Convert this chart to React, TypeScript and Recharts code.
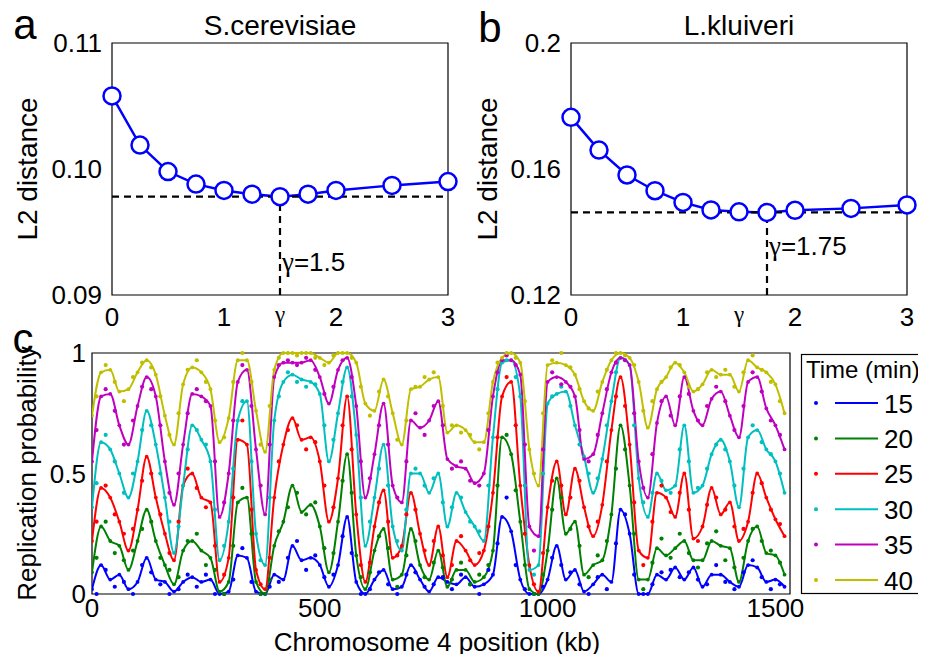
import React from "react";
import {
  ComposedChart,
  LineChart,
  Line,
  Scatter,
  XAxis,
  YAxis,
  ReferenceLine,
  ReferenceArea,
  ReferenceDot,
} from "recharts";

const FONT = "'Liberation Sans', Arial, Helvetica, sans-serif";
const SERIF = "'Liberation Serif', 'DejaVu Serif', serif";

// Panels a / b: L2 distance vs gamma
const gammas = [0, 0.25, 0.5, 0.75, 1, 1.25, 1.5, 1.75, 2, 2.5, 3];
const cerevisiaeL2 = [0.1058, 0.1019, 0.0998, 0.0988, 0.0983, 0.098, 0.0978, 0.098, 0.0983, 0.0987, 0.099];
const kluiveriL2 = [0.1764, 0.166, 0.1581, 0.1531, 0.1494, 0.147, 0.1464, 0.1462, 0.1469, 0.1475, 0.1486];

// Panel c: replication probability along chromosome 4 (kb)
const fitPositions = Array.from({ length: 77 }, (_, i) => i * 20);
const obsPositions = Array.from({ length: 76 }, (_, i) => 10 + i * 20);

const fit15 = [0.02,0.12,0.06,0.08,0.02,0.05,0.15,0.06,0.05,0.01, 0.05,0.07,0.05,0.06,0.00,0.01,0.16,0.15,0.01,0.00, 0.08,0.06,0.20,0.14,0.15,0.12,0.03,0.12,0.32,0.05, 0.00,0.06,0.10,0.02,0.03,0.12,0.06,0.01,0.07,0.05, 0.04,0.07,0.03,0.04,0.08,0.32,0.26,0.06,0.00,0.00, 0.06,0.20,0.06,0.10,0.01,0.04,0.08,0.05,0.35,0.25, 0.00,0.00,0.08,0.06,0.11,0.06,0.11,0.03,0.08,0.08, 0.05,0.03,0.12,0.11,0.05,0.06,0.03];
const fit20 = [0.09,0.28,0.22,0.20,0.10,0.22,0.35,0.22,0.12,0.04, 0.18,0.22,0.18,0.15,0.01,0.05,0.38,0.40,0.05,0.00, 0.20,0.30,0.45,0.34,0.37,0.28,0.09,0.30,0.58,0.16, 0.02,0.18,0.27,0.06,0.08,0.27,0.12,0.06,0.18,0.03, 0.10,0.10,0.05,0.07,0.18,0.65,0.58,0.30,0.02,0.00, 0.18,0.48,0.25,0.30,0.08,0.12,0.14,0.33,0.70,0.45, 0.06,0.06,0.19,0.16,0.19,0.22,0.14,0.14,0.22,0.20, 0.19,0.05,0.22,0.28,0.17,0.16,0.08];
const fit25 = [0.22,0.44,0.40,0.30,0.18,0.35,0.57,0.40,0.25,0.14, 0.45,0.50,0.40,0.38,0.05,0.15,0.64,0.62,0.10,0.02, 0.40,0.62,0.73,0.64,0.65,0.55,0.30,0.48,0.82,0.33, 0.05,0.28,0.43,0.15,0.20,0.42,0.25,0.12,0.28,0.07, 0.22,0.18,0.12,0.18,0.42,0.82,0.88,0.45,0.12,0.01, 0.36,0.55,0.33,0.52,0.36,0.24,0.37,0.68,0.90,0.62, 0.18,0.15,0.42,0.40,0.32,0.50,0.23,0.28,0.44,0.33, 0.38,0.22,0.30,0.50,0.40,0.31,0.24];
const fit30 = [0.36,0.63,0.60,0.50,0.40,0.55,0.76,0.62,0.40,0.17, 0.45,0.70,0.64,0.55,0.14,0.30,0.72,0.80,0.25,0.12, 0.72,0.88,0.91,0.89,0.88,0.83,0.55,0.75,0.94,0.66, 0.20,0.40,0.62,0.28,0.18,0.50,0.50,0.42,0.50,0.28, 0.42,0.34,0.28,0.22,0.65,0.96,0.97,0.82,0.10,0.12, 0.79,0.83,0.84,0.70,0.57,0.42,0.56,0.80,0.98,0.95, 0.48,0.32,0.50,0.43,0.45,0.70,0.42,0.45,0.58,0.64, 0.55,0.36,0.65,0.68,0.60,0.55,0.42];
const fit35 = [0.55,0.82,0.83,0.70,0.62,0.78,0.90,0.82,0.55,0.37, 0.62,0.83,0.82,0.78,0.32,0.50,0.88,0.93,0.60,0.33, 0.90,0.96,0.96,0.96,0.97,0.90,0.79,0.93,0.98,0.78, 0.40,0.58,0.79,0.45,0.38,0.72,0.69,0.72,0.80,0.56, 0.53,0.52,0.46,0.50,0.82,0.97,0.97,0.91,0.28,0.24, 0.88,0.90,0.88,0.82,0.56,0.58,0.75,0.92,0.98,0.95, 0.55,0.40,0.71,0.82,0.70,0.90,0.76,0.70,0.81,0.84, 0.74,0.65,0.88,0.90,0.77,0.70,0.60];
const fit40 = [0.74,0.92,0.93,0.84,0.85,0.92,0.97,0.91,0.74,0.62, 0.87,0.94,0.92,0.85,0.63,0.73,0.97,0.97,0.76,0.59, 0.93,1.00,1.00,1.00,1.00,0.98,0.96,1.00,1.00,0.96, 0.79,0.76,0.89,0.75,0.62,0.85,0.86,0.89,0.90,0.67, 0.70,0.68,0.63,0.63,0.88,0.98,1.00,0.96,0.60,0.45, 0.95,0.96,0.95,0.91,0.80,0.76,0.88,0.97,1.00,0.98, 0.88,0.69,0.85,0.90,0.96,0.92,0.84,0.87,0.93,0.91, 0.91,0.84,0.97,0.94,0.92,0.87,0.75];

const obs15 = [0.00,0.10,0.03,0.05,0.00,0.12,0.09,0.04,0.00,0.02, 0.08,0.03,0.08,0.00,0.00,0.06,0.19,0.05,0.00,0.03, 0.05,0.15,0.22,0.10,0.16,0.07,0.08,0.24,0.17,0.00, 0.02,0.09,0.04,0.00,0.08,0.09,0.03,0.04,0.07,0.02, 0.08,0.04,0.00,0.10,0.21,0.40,0.12,0.02,0.00,0.03, 0.15,0.12,0.09,0.04,0.00,0.07,0.02,0.21,0.33,0.08, 0.00,0.04,0.09,0.10,0.07,0.09,0.06,0.04,0.12,0.05, 0.02,0.09,0.14,0.07,0.02,0.04];
const obs20 = [0.15,0.30,0.17,0.14,0.18,0.27,0.30,0.15,0.10,0.07, 0.22,0.25,0.12,0.10,0.00,0.20,0.44,0.25,0.00,0.06, 0.26,0.36,0.42,0.33,0.38,0.19,0.17,0.47,0.42,0.07, 0.09,0.24,0.19,0.03,0.16,0.22,0.07,0.13,0.11,0.06, 0.13,0.04,0.08,0.12,0.45,0.66,0.43,0.12,0.00,0.08, 0.35,0.40,0.27,0.20,0.07,0.16,0.22,0.52,0.60,0.25, 0.02,0.13,0.23,0.15,0.25,0.17,0.11,0.21,0.26,0.14, 0.11,0.15,0.27,0.22,0.18,0.13];
const obs25 = [0.30,0.45,0.33,0.25,0.27,0.47,0.50,0.33,0.17,0.30, 0.52,0.44,0.36,0.20,0.08,0.40,0.72,0.35,0.04,0.15, 0.55,0.68,0.70,0.60,0.63,0.45,0.36,0.70,0.60,0.12, 0.13,0.38,0.30,0.16,0.33,0.35,0.18,0.22,0.16,0.12, 0.24,0.14,0.17,0.28,0.65,0.90,0.70,0.25,0.04,0.17, 0.47,0.45,0.40,0.47,0.28,0.30,0.55,0.82,0.78,0.38, 0.12,0.30,0.45,0.34,0.42,0.35,0.22,0.37,0.40,0.35, 0.28,0.27,0.42,0.46,0.35,0.29];
const obs30 = [0.46,0.66,0.55,0.42,0.50,0.68,0.70,0.50,0.30,0.28, 0.60,0.68,0.62,0.35,0.20,0.52,0.80,0.55,0.14,0.40, 0.82,0.92,0.88,0.86,0.87,0.70,0.64,0.88,0.82,0.40, 0.30,0.52,0.45,0.22,0.35,0.52,0.45,0.48,0.38,0.36, 0.40,0.30,0.26,0.45,0.85,0.97,0.90,0.45,0.08,0.50, 0.82,0.86,0.78,0.62,0.50,0.48,0.70,0.92,0.97,0.70, 0.38,0.42,0.47,0.42,0.60,0.55,0.44,0.52,0.62,0.60, 0.45,0.52,0.70,0.63,0.58,0.50];
const obs35 = [0.68,0.85,0.76,0.62,0.72,0.86,0.85,0.70,0.42,0.50, 0.75,0.85,0.80,0.55,0.38,0.72,0.95,0.78,0.45,0.62, 0.95,0.97,0.95,0.98,0.93,0.83,0.86,0.97,0.90,0.55, 0.48,0.70,0.62,0.40,0.55,0.75,0.66,0.78,0.70,0.52, 0.55,0.47,0.45,0.68,0.92,0.99,0.95,0.62,0.18,0.60, 0.92,0.87,0.86,0.68,0.55,0.66,0.85,0.96,0.97,0.75, 0.44,0.58,0.80,0.74,0.82,0.83,0.72,0.78,0.86,0.80, 0.68,0.78,0.92,0.84,0.72,0.66];
const obs40 = [0.82,0.95,0.88,0.80,0.90,0.96,0.94,0.82,0.66,0.75, 0.93,0.97,0.88,0.72,0.65,0.88,1.00,0.88,0.62,0.78, 0.98,1.00,0.99,1.00,0.98,0.95,0.99,1.00,0.98,0.86, 0.74,0.84,0.82,0.64,0.72,0.86,0.90,0.92,0.78,0.70, 0.67,0.66,0.60,0.75,0.96,1.00,0.98,0.80,0.50,0.75, 0.97,1.00,0.94,0.85,0.77,0.84,0.93,1.00,0.99,0.95, 0.76,0.80,0.88,0.94,0.95,0.86,0.85,0.92,0.90,0.93, 0.86,0.92,0.99,0.93,0.88,0.80];

const timeSeries = [
  { key: "t15", label: "15", color: "#0000ff", fit: fit15, obs: obs15 },
  { key: "t20", label: "20", color: "#008000", fit: fit20, obs: obs20 },
  { key: "t25", label: "25", color: "#ff0000", fit: fit25, obs: obs25 },
  { key: "t30", label: "30", color: "#00bfbf", fit: fit30, obs: obs30 },
  { key: "t35", label: "35", color: "#bf00bf", fit: fit35, obs: obs35 },
  { key: "t40", label: "40", color: "#bfbf00", fit: fit40, obs: obs40 },
];

const fitRows = fitPositions.map((x, i) => {
  const row: Record<string, number> = { x };
  timeSeries.forEach((s) => (row[s.key] = s.fit[i]));
  return row;
});
const obsRows = obsPositions.map((x, i) => {
  const row: Record<string, number> = { x };
  timeSeries.forEach((s) => (row[s.key] = s.obs[i]));
  return row;
});

const tickStyle = { fontSize: 26, fill: "#000", fontFamily: FONT };

// Helpers for labels
function YTitle({ viewBox, text, size = 28 }: any) {
  const vb = viewBox || { x: 0, y: 0, width: 0, height: 0 };
  const cx = vb.x + 27;
  const cy = vb.y + vb.height / 2;
  return (
    <text x={cx} y={cy} transform={`rotate(-90 ${cx} ${cy})`} textAnchor="middle" dominantBaseline="central" fontSize={size} fontFamily={FONT} fill="#000">
      {text}
    </text>
  );
}

function GammaAxisLabel({ viewBox }: any) {
  const vb = viewBox || { x: 0, y: 0, width: 0, height: 0 };
  return (
    <text x={vb.x + vb.width / 2} y={vb.y + 27} textAnchor="middle" fontSize={23} fontFamily={SERIF} fill="#000">
      γ
    </text>
  );
}

function GammaNote({ viewBox, text }: any) {
  const vb = viewBox || { x: 0, y: 0 };
  return (
    <text x={vb.x + 2} y={vb.y} dominantBaseline="central" fontSize={26} fontFamily={FONT} fill="#000">
      <tspan fontFamily={SERIF} fontSize={27}>γ</tspan>
      <tspan>{text}</tspan>
    </text>
  );
}

function XTitle({ viewBox, text }: any) {
  const vb = viewBox || { x: 0, y: 0, width: 0, height: 0 };
  return (
    <text x={vb.x + vb.width / 2 - 4} y={vb.y + 57} textAnchor="middle" fontSize={26} fontFamily={FONT} fill="#000">
      {text}
    </text>
  );
}

interface GammaPanelProps {
  left: number;
  width: number;
  yAxisWidth: number;
  values: number[];
  yDomain: [number, number];
  yTicks: number[];
  yInner: number[];
  yFormat: (v: number) => string;
  noteY: number;
}

function GammaPanel({ left, width, yAxisWidth, values, yDomain, yTicks, yInner, yFormat, noteY }: GammaPanelProps) {
  const rows = gammas.map((g, i) => ({ g, d: values[i] }));
  const minIdx = values.indexOf(Math.min(...values));
  const best = values[minIdx];
  const bestGamma = gammas[minIdx];
  return (
    <div style={{ position: "absolute", left, top: 0 }}>
      <LineChart width={width} height={340} data={rows} margin={{ top: 43, right: width - yAxisWidth - 336, bottom: 0, left: 0 }}>
        <ReferenceArea x1={0} x2={3} y1={yDomain[0]} y2={yDomain[1]} stroke="#000" strokeWidth={1.2} fill="#fff" fillOpacity={0} />
        <XAxis dataKey="g" type="number" domain={[0, 3]} ticks={[0, 1, 2, 3]} height={45} axisLine={false} tickLine={false} tickSize={0} tickMargin={13} tick={tickStyle} label={<GammaAxisLabel />} />
        <XAxis xAxisId="top" orientation="top" type="number" domain={[0, 3]} ticks={[1, 2]} mirror axisLine={false} tick={false} tickSize={4} tickLine={{ stroke: "#000" }} />
        <YAxis type="number" domain={yDomain} ticks={yTicks} width={yAxisWidth} axisLine={false} tickLine={false} tickSize={0} tickMargin={10} tick={tickStyle} tickFormatter={yFormat} label={<YTitle text="L2 distance" />} />
        <YAxis yAxisId="right" orientation="right" type="number" domain={yDomain} ticks={yInner} mirror axisLine={false} tick={false} tickSize={4} tickLine={{ stroke: "#000" }} />
        <Line dataKey="d" type="linear" stroke="#0000ff" strokeWidth={2.5} dot={{ r: 8.5, stroke: "#0000ff", strokeWidth: 2.5, fill: "#fff" }} isAnimationActive={false} />
        <ReferenceLine y={best} stroke="#000" strokeWidth={2.2} strokeDasharray="7 5" />
        <ReferenceLine segment={[{ x: bestGamma, y: yDomain[0] }, { x: bestGamma, y: best }]} stroke="#000" strokeWidth={2.2} strokeDasharray="7 5" />
        <ReferenceDot x={bestGamma} y={noteY} r={0} stroke="none" fill="none" label={<GammaNote text={`=${bestGamma}`} />} />
      </LineChart>
    </div>
  );
}

const ObsDot = (color: string) => (props: any) => <circle cx={props.cx} cy={props.cy} r={2.1} fill={color} />;

export default function App() {
  return (
    <div style={{ position: "relative", width: 926, height: 662, margin: -8, background: "#fff", fontFamily: FONT, overflow: "hidden" }}>
      <GammaPanel left={0} width={470} yAxisWidth={112} values={cerevisiaeL2} yDomain={[0.09, 0.11]} yTicks={[0.09, 0.1, 0.11]} yInner={[0.095, 0.1, 0.105]} yFormat={(v) => v.toFixed(2)} noteY={0.0926} />
      <GammaPanel left={460} width={466} yAxisWidth={111} values={kluiveriL2} yDomain={[0.12, 0.2]} yTicks={[0.12, 0.16, 0.2]} yInner={[0.14, 0.16, 0.18]} yFormat={(v) => String(v)} noteY={0.1356} />

      <div style={{ position: "absolute", left: 0, top: 330 }}>
        <ComposedChart width={812} height={332} margin={{ top: 23, right: 22, bottom: 0, left: 0 }}>
          <ReferenceArea x1={0} x2={1532} y1={0} y2={1} stroke="#000" strokeWidth={1.2} fill="#fff" fillOpacity={0} />
          <XAxis dataKey="x" type="number" domain={[0, 1532]} ticks={[0, 500, 1000, 1500]} height={68} axisLine={false} tickLine={false} tickSize={0} tickMargin={5} tick={tickStyle} allowDataOverflow label={<XTitle text="Chromosome 4 position (kb)" />} />
          <XAxis xAxisId="top" orientation="top" type="number" domain={[0, 1532]} ticks={[500, 1000, 1500]} mirror axisLine={false} tick={false} tickSize={5} tickLine={{ stroke: "#000" }} />
          <YAxis type="number" domain={[0, 1]} ticks={[0, 0.5, 1]} width={92} axisLine={false} tickLine={false} tickSize={0} tickMargin={6} tick={tickStyle} label={<YTitle text="Replication probability" size={26} />} />
          <YAxis yAxisId="right" orientation="right" type="number" domain={[0, 1]} ticks={[0.5]} mirror axisLine={false} tick={false} tickSize={5} tickLine={{ stroke: "#000" }} />
          {timeSeries.flatMap((s) => [
            <Scatter key={`${s.key}-obs`} data={obsRows} dataKey={s.key} shape={ObsDot(s.color)} isAnimationActive={false} />,
            <Line key={`${s.key}-fit`} data={fitRows} dataKey={s.key} type="monotone" stroke={s.color} strokeWidth={2} dot={{ r: 1.9, fill: s.color, stroke: s.color, strokeWidth: 0 }} isAnimationActive={false} />,
          ])}
        </ComposedChart>
      </div>

      <svg width={926} height={662} style={{ position: "absolute", left: 0, top: 0, pointerEvents: "none" }}>
        <g fontFamily={FONT} fill="#000">
          <text x={25} y={39} fontSize={42} textAnchor="middle">a</text>
          <text x={490} y={42} fontSize={42} textAnchor="middle">b</text>
          <text x={23} y={353} fontSize={42} textAnchor="middle">c</text>
          <text x={280} y={35} fontSize={28} textAnchor="middle">S.cerevisiae</text>
          <text x={739} y={35} fontSize={28} textAnchor="middle">L.kluiveri</text>
        </g>
        <rect x={801.5} y={354.5} width={123} height={239} fill="#fff" stroke="#000" strokeWidth={1.2} />
        <text x={806} y={378} fontSize={24} fontFamily={FONT} fill="#000">Time (min)</text>
        {timeSeries.map((s, i) => {
          const cy = 403 + i * 35.4;
          return (
            <g key={s.key}>
              <circle cx={816} cy={cy} r={2} fill={s.color} />
              <line x1={835} x2={878} y1={cy} y2={cy} stroke={s.color} strokeWidth={2} />
              <text x={884} y={cy + 9.5} fontSize={26} fontFamily={FONT} fill="#000">{s.label}</text>
            </g>
          );
        })}
      </svg>
    </div>
  );
}
